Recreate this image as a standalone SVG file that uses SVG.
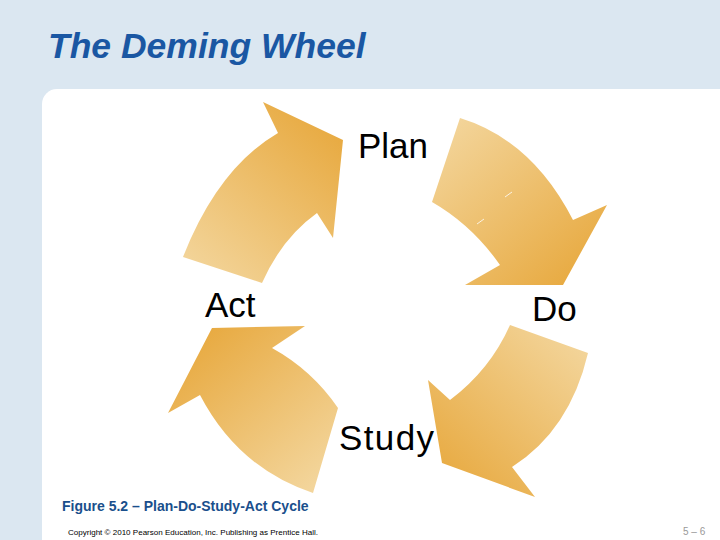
<svg xmlns="http://www.w3.org/2000/svg" width="720" height="540" viewBox="0 0 720 540">
<defs>
<style>
.lbl{font-family:"Liberation Sans",Arial,sans-serif;font-size:35px;fill:#000}
.arrow{stroke:none}
</style>
<linearGradient id="g1" gradientUnits="userSpaceOnUse" x1="200" y1="280" x2="330" y2="130"><stop offset="0" stop-color="#f3d59b"/><stop offset="1" stop-color="#e8ab43"/></linearGradient>
<linearGradient id="g2" gradientUnits="userSpaceOnUse" x1="440" y1="130" x2="570" y2="280"><stop offset="0" stop-color="#f3d59b"/><stop offset="1" stop-color="#e8ab43"/></linearGradient>
<linearGradient id="g3" gradientUnits="userSpaceOnUse" x1="580" y1="340" x2="450" y2="480"><stop offset="0" stop-color="#f3d59b"/><stop offset="1" stop-color="#e8ab43"/></linearGradient>
<linearGradient id="g4" gradientUnits="userSpaceOnUse" x1="320" y1="480" x2="200" y2="340"><stop offset="0" stop-color="#f3d59b"/><stop offset="1" stop-color="#e8ab43"/></linearGradient>
</defs>
<rect x="0" y="0" width="720" height="540" fill="#dbe7f1"/>
<rect x="42" y="89" width="700" height="480" rx="15" ry="15" fill="#ffffff"/>
<text x="48" y="58" font-family="'Liberation Sans',Arial,sans-serif" font-size="35.5" font-weight="bold" font-style="italic" fill="#1a57a3">The Deming Wheel</text>
<g id="connectors">
<path id="act-plan" class="arrow" fill="url(#g1)" d="M183,257 Q218,168 278,133 L263,102 L343,140 L333,238 L317,213 Q282,238 262,283 Z"/>
<path id="plan-do" class="arrow" fill="url(#g2)" d="M460,118 Q532,140 573,220 L607,205 L563,285 L465,285 L500,265 Q472,225 432,202 Z"/>
<path id="do-study" class="arrow" fill="url(#g3)" d="M588,353 Q570,430 512,467 L535,497 L442,463 L428,380 L450,400 Q490,370 510,325 Z"/>
<path id="study-act" class="arrow" fill="url(#g4)" d="M313,493 Q238,468 200,395 L168,413 L212,328 L305,326 L272,348 Q312,370 338,408 Z"/>
<line x1="505" y1="197" x2="512" y2="192" stroke="#ffffff" stroke-width="1" opacity="0.8"/>
<line x1="477" y1="224" x2="484" y2="219" stroke="#ffffff" stroke-width="1" opacity="0.8"/>
</g>
<g id="plan"><text class="lbl" x="358" y="158">Plan</text></g>
<g id="do"><text class="lbl" x="532" y="321">Do</text></g>
<g id="study"><text class="lbl" x="339" y="450" textLength="95">Study</text></g>
<g id="act"><text class="lbl" x="205" y="317">Act</text></g>
<text x="62" y="511" font-family="'Liberation Sans',Arial,sans-serif" font-size="14" font-weight="bold" fill="#1a4f8c">Figure 5.2 – Plan-Do-Study-Act Cycle</text>
<text x="68" y="535" font-family="'Liberation Sans',Arial,sans-serif" font-size="8" fill="#000" textLength="250" lengthAdjust="spacingAndGlyphs">Copyright © 2010 Pearson Education, Inc. Publishing as Prentice Hall.</text>
<text x="683" y="535" font-family="'Liberation Sans',Arial,sans-serif" font-size="10" fill="#999999">5 – 6</text>
</svg>
